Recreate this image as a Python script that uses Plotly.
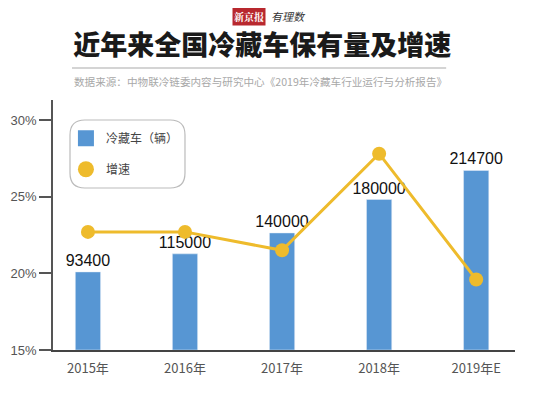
import plotly.graph_objects as go

categories = ["2015年", "2016年", "2017年", "2018年", "2019年E"]
vehicles = [93400, 115000, 140000, 180000, 214700]
growth = [22.7, 22.7, 21.5, 27.8, 19.6]
y_ticks = [15, 20, 25, 30]
y_tick_labels = ["15%", "20%", "25%", "30%"]

BLUE = "#5796d3"
YELLOW = "#eebb2c"
CJK = "Noto Sans CJK SC"

fig = go.Figure()
fig.add_trace(go.Bar(
    x=categories, y=vehicles, yaxis="y", marker_color=BLUE, width=0.26,
    text=[str(v) for v in vehicles], textposition="outside", cliponaxis=False,
    constraintext="none",
    textfont=dict(family="Liberation Sans", size=16, color="#111"),
    showlegend=False,
))
fig.add_trace(go.Scatter(
    x=categories, y=growth, mode="lines+markers", yaxis="y2",
    line=dict(color=YELLOW, width=3), marker=dict(color=YELLOW, size=14),
    showlegend=False, cliponaxis=False,
))
# legend-only entries
fig.add_trace(go.Scatter(x=[None], y=[None], mode="markers", name="冷藏车（辆）", yaxis="y2",
                         marker=dict(symbol="square", size=16, color=BLUE), legendgroup="a"))
fig.add_trace(go.Scatter(x=[None], y=[None], mode="markers", name="增速", yaxis="y2",
                         marker=dict(symbol="circle", size=16, color=YELLOW), legendgroup="b"))

# rounded legend box (paper coords)
x0, x1, y0, y1 = 0.0368, 0.2857, 0.648, 0.92
rx, ry = 0.032, 0.06
path = (f"M {x0+rx},{y1} L {x1-rx},{y1} Q {x1},{y1} {x1},{y1-ry} L {x1},{y0+ry} "
        f"Q {x1},{y0} {x1-rx},{y0} L {x0+rx},{y0} Q {x0},{y0} {x0},{y0+ry} "
        f"L {x0},{y1-ry} Q {x0},{y1} {x0+rx},{y1} Z")

fig.update_layout(
    width=542, height=390,
    margin=dict(l=45, r=35, t=92, b=48, autoexpand=False),
    paper_bgcolor="white", plot_bgcolor="white",
    font=dict(family=CJK, color="#555"),
    title=dict(text="近年来全国冷藏车保有量及增速", x=0.469, xanchor="center",
               y=0.905, yanchor="middle", yref="container",
               font=dict(family=CJK, size=27, color="#1a1a1a", weight=900)),
    xaxis=dict(range=[-0.36, 4.40], showline=True, linecolor="#444", linewidth=1.5,
               ticks="", showgrid=False, ticklabelstandoff=6, automargin=False,
               tickfont=dict(family=CJK, size=13, color="#555")),
    yaxis=dict(range=[0, 299000], visible=False, automargin=False),
    yaxis2=dict(range=[15, 31.3], tickvals=y_ticks, ticktext=y_tick_labels,
                overlaying="y", side="left", automargin=False,
                showline=True, linecolor="#555", linewidth=1.5, ticks="outside",
                ticklen=12, tickcolor="#555", tickwidth=1.5, showgrid=False, zeroline=False,
                tickfont=dict(family="Liberation Sans", size=13, color="#555")),
    showlegend=True,
    legend=dict(x=0.028, y=0.905, xanchor="left", yanchor="top", bgcolor="rgba(0,0,0,0)",
                font=dict(family=CJK, size=12, color="#444"), tracegroupgap=12,
                itemsizing="trace", itemwidth=30),
    shapes=[
        dict(type="path", path=path, xref="paper", yref="paper",
             line=dict(color="#bbb", width=1.2), fillcolor="rgba(0,0,0,0)"),
        dict(type="line", xref="paper", yref="paper", x0=0.041, x1=0.851, y0=1.128, y1=1.128,
             line=dict(color="#aaa", width=1.2)),
    ],
    annotations=[
        dict(text="数据来源：中物联冷链委内容与研究中心《2019年冷藏车行业运行与分析报告》",
             xref="paper", yref="paper", x=0.041, y=1.072, xanchor="left", yanchor="middle",
             showarrow=False, font=dict(family=CJK, size=10.6, color="#a8a8a8")),
        dict(text="<b>新京报</b>", xref="paper", yref="paper", x=0.461, y=1.335,
             xanchor="right", yanchor="middle", showarrow=False, bgcolor="#b8282e",
             borderpad=1, font=dict(family="Noto Serif CJK SC, Noto Sans CJK SC", size=10, color="white")),
        dict(text="<i>有理数</i>", xref="paper", yref="paper", x=0.468, y=1.335,
             xanchor="left", yanchor="middle", showarrow=False,
             font=dict(family=CJK, size=11, color="#333")),
    ],
)

fig.write_html("out.html")
